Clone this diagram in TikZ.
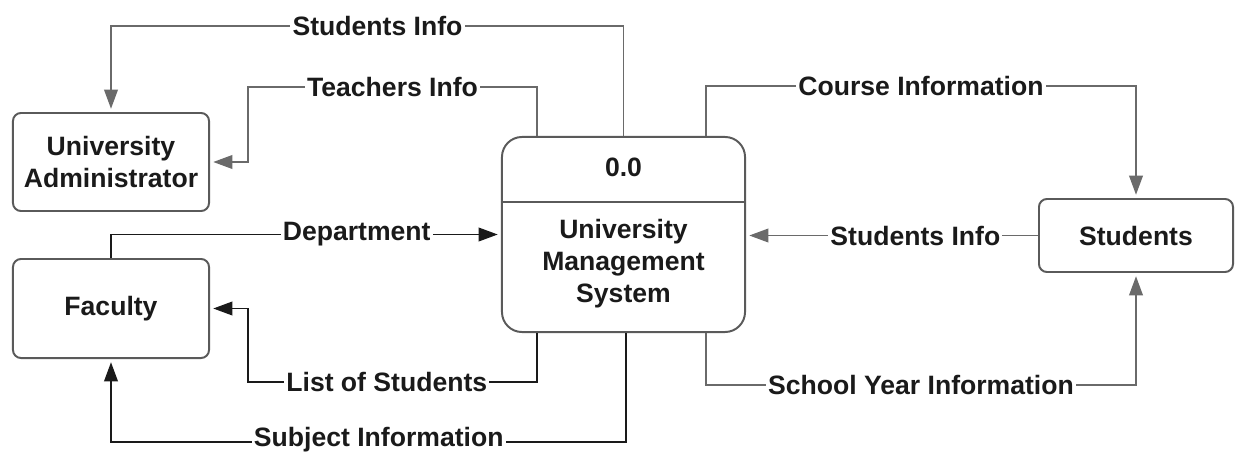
\documentclass[tikz,border=0pt]{standalone}
\usepackage{fontspec}
\setmainfont{Liberation Sans}
\usetikzlibrary{arrows.meta,calc}
\definecolor{linegray}{HTML}{6A6A6A}
\definecolor{boxgray}{HTML}{5A5A5A}
\definecolor{inkblack}{HTML}{1A1A1A}
\begin{document}
\begin{tikzpicture}[x=0.025cm,y=-0.025cm,
        font=\fontsize{18.9}{22.7}\selectfont\bfseries,
        entity/.style={draw=boxgray,line width=1.4pt,rounded corners=0.2cm,align=center,inner sep=0pt,text=inkblack},
        procbox/.style={draw=boxgray,line width=1.4pt,rounded corners=0.5cm,minimum width=6.075cm,minimum height=4.875cm,inner sep=0pt},
        flowg/.style={draw=linegray,line width=1.4pt,-{Triangle[length=0.48cm,width=0.34cm]},shorten >=0.08cm},
        flowk/.style={draw=inkblack,line width=1.4pt,-{Triangle[length=0.48cm,width=0.34cm]},shorten >=0.08cm},
        lbl/.style={fill=white,inner sep=1.5pt,text=inkblack}]
    \useasboundingbox (0,0) rectangle (1235,453);
    %% external entities
    \node[entity,minimum width=4.9cm,minimum height=2.45cm] (admin) at (111,162) {University\\Administrator};
    \node[entity,minimum width=4.9cm,minimum height=2.475cm] (faculty) at (111,308.5) {Faculty};
    \node[entity,minimum width=4.85cm,minimum height=1.825cm] (students) at (1136,235.5) {Students};
    %% process
    \node[procbox] (ums) at (623.5,234.5) {};
    \node[text=inkblack] (pid) at (623.5,167) {0.0};
    \node[text=inkblack,align=center] (pname) at (623.5,264) {University\\Management\\System};
    \draw[draw=boxgray,line width=1.4pt] ([yshift=0.81cm]ums.west) -- ([yshift=0.81cm]ums.east);
    %% flows to the administrator
    \draw[flowg] (ums.north) -- ++(0,-110) -| node[lbl,pos=0.24] {Students Info} (admin.north);
    \draw[flowg] ([xshift=-2.16cm]ums.north) -- ++(0,-49) -| node[lbl,pos=0.25] {Teachers Info} ([xshift=0.95cm]admin.east) -- (admin.east);
    %% flows with the students
    \draw[flowg] ([xshift=2.06cm]ums.north) -- ++(0,-50) -| node[lbl,pos=0.25] {Course Information} (students.north);
    \draw[flowg] (students.west) -- node[lbl,pos=0.42] {Students Info} (ums.east |- students.west);
    \draw[flowg] ([xshift=2.06cm]ums.south) -- ++(0,52) -| node[lbl,pos=0.25] {School Year Information} (students.south);
    %% flows with the faculty
    \draw[flowk] (faculty.north) |- node[lbl,pos=0.815] {Department} (ums.west);
    \draw[flowk] ([xshift=-2.16cm]ums.south) -- ++(0,49) -| node[lbl,pos=0.26] {List of Students} ([xshift=0.95cm]faculty.east) -- (faculty.east);
    \draw[flowk] ([xshift=0.06cm]ums.south) -- ++(0,109) -| node[lbl,pos=0.24,yshift=0.05cm] {Subject Information} (faculty.south);
\end{tikzpicture}
\end{document}
